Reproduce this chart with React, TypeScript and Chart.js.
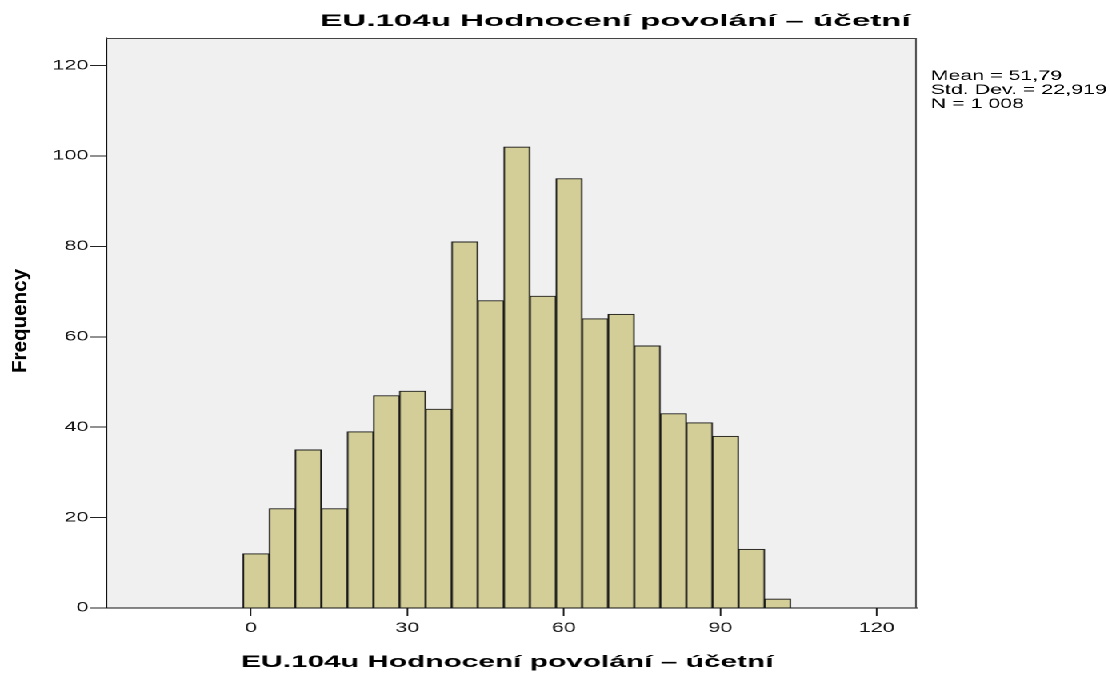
import React, { useEffect, useRef } from "react";
import { Chart, registerables } from "chart.js";

Chart.register(...registerables);

// ---- data ----
const binCenters = [1, 6, 11, 16, 21, 26, 31, 36, 41, 46, 51, 56, 61, 66, 71, 76, 81, 86, 91, 96, 101];
const frequencies = [12, 22, 35, 22, 39, 47, 48, 44, 81, 68, 102, 69, 95, 64, 65, 58, 43, 41, 38, 13, 2];
const xTickValues = [0, 30, 60, 90, 120];
const yTickValues = [0, 20, 40, 60, 80, 100, 120];
const chartTitle = "EU.104u Hodnocení povolání – účetní";
const xAxisTitle = "EU.104u Hodnocení povolání – účetní";
const yAxisTitle = "Frequency";
const statsLines = ["Mean = 51,79", "Std. Dev. = 22,919", "N = 1 008"];

// ---- layout (the reference is horizontally stretched) ----
const SCREEN_W = 1110;
const SCREEN_H = 675;
const K = 1.6; // horizontal stretch factor
const W = SCREEN_W / K;
const FONT = "'Liberation Sans', Arial, sans-serif";

const sx = (screenX: number) => screenX / K;

const textPlugin = {
  id: "spssText",
  beforeDraw(chart: any) {
    const { ctx, chartArea } = chart;
    ctx.save();
    ctx.fillStyle = "#f0f0f0";
    ctx.fillRect(chartArea.left, chartArea.top, chartArea.right - chartArea.left, chartArea.bottom - chartArea.top);
    ctx.restore();
  },
  afterDraw(chart: any) {
    const { ctx, chartArea } = chart;
    ctx.save();
    // frame top/right
    ctx.strokeStyle = "#444";
    ctx.lineWidth = 1;
    ctx.beginPath();
    ctx.moveTo(chartArea.left, chartArea.top + 0.5);
    ctx.lineTo(chartArea.right - 0.5, chartArea.top + 0.5);
    ctx.lineTo(chartArea.right - 0.5, chartArea.bottom);
    ctx.stroke();

    ctx.fillStyle = "#000";
    const drawFit = (text: string, cx: number, baseline: number, font: string, targetScreenW: number, align: CanvasTextAlign) => {
      ctx.save();
      ctx.font = font;
      const w = ctx.measureText(text).width;
      const s = targetScreenW / K / w;
      ctx.translate(cx, baseline);
      ctx.scale(s, 1);
      ctx.textAlign = align;
      ctx.textBaseline = "alphabetic";
      ctx.fillText(text, 0, 0);
      ctx.restore();
      return s;
    };

    // main title
    drawFit(chartTitle, sx(615), 26, `bold 17px ${FONT}`, 590, "center");
    // x axis title
    drawFit(xAxisTitle, sx(507), 667, `bold 17px ${FONT}`, 532, "center");

    // y axis title (rotated, compensate the stretch)
    ctx.save();
    ctx.font = `bold 21px ${FONT}`;
    const lw = ctx.measureText(yAxisTitle).width;
    ctx.translate(sx(21), 321);
    ctx.scale(1 / K, 1);
    ctx.rotate(-Math.PI / 2);
    ctx.scale(104 / lw, 1);
    ctx.textAlign = "center";
    ctx.textBaseline = "middle";
    ctx.fillText(yAxisTitle, 0, 0);
    ctx.restore();

    // stats
    ctx.save();
    ctx.font = `14px ${FONT}`;
    const refW = ctx.measureText(statsLines[1]).width;
    const s = 176 / K / refW;
    const baselines = [80, 94, 108];
    statsLines.forEach((line, i) => {
      ctx.save();
      ctx.translate(sx(930), baselines[i]);
      ctx.scale(s, 1);
      ctx.textAlign = "left";
      ctx.fillText(line, 0, 0);
      ctx.restore();
    });
    ctx.restore();

    ctx.restore();
  },
};

export default function App() {
  const canvasRef = useRef<HTMLCanvasElement | null>(null);

  useEffect(() => {
    if (!canvasRef.current) return;
    const plotLeft = sx(106);
    const plotRight = sx(916);
    const chart = new Chart(canvasRef.current, {
      type: "bar",
      data: {
        datasets: [
          {
            label: "Frequency",
            data: binCenters.map((x, i) => ({ x, y: frequencies[i] })),
            backgroundColor: "#d3ce98",
            borderColor: "#1a1a1a",
            borderWidth: 1,
            barPercentage: 1,
            categoryPercentage: 1,
          },
        ],
      },
      plugins: [textPlugin],
      options: {
        animation: false,
        responsive: true,
        maintainAspectRatio: false,
        devicePixelRatio: 2,
        layout: { padding: { top: 38, right: W - plotRight, bottom: 0, left: 0 } },
        plugins: {
          legend: { display: false },
          title: { display: false },
          tooltip: { enabled: false },
        },
        scales: {
          x: {
            type: "linear",
            min: -27.77,
            max: 127.68,
            offset: false,
            afterBuildTicks: (axis: any) => {
              axis.ticks = xTickValues.map((v) => ({ value: v }));
            },
            afterFit: (axis: any) => {
              axis.height = SCREEN_H - 608;
            },
            grid: { offset: false, drawOnChartArea: false, drawTicks: true, tickLength: 8, color: "#222", lineWidth: 1 },
            border: { display: true, color: "#111", width: 1 },
            ticks: {
              padding: 4,
              color: "#111",
              font: { family: FONT, size: 13.5 },
              maxRotation: 0,
              autoSkip: false,
            },
          },
          y: {
            type: "linear",
            min: 0,
            max: 126.1,
            afterBuildTicks: (axis: any) => {
              axis.ticks = yTickValues.map((v) => ({ value: v }));
            },
            afterFit: (axis: any) => {
              axis.width = plotLeft;
            },
            grid: { offset: false, drawOnChartArea: false, drawTicks: true, tickLength: 10, color: "#222", lineWidth: 1 },
            border: { display: true, color: "#111", width: 1 },
            ticks: {
              padding: 1,
              color: "#111",
              font: { family: FONT, size: 13.5 },
              autoSkip: false,
            },
          },
        },
      },
    });
    return () => chart.destroy();
  }, []);

  return (
    <div
      style={{
        position: "fixed",
        left: 0,
        top: 0,
        width: `${W}px`,
        height: `${SCREEN_H}px`,
        transform: `scaleX(${K})`,
        transformOrigin: "0 0",
        background: "#fff",
      }}
    >
      <canvas ref={canvasRef} />
    </div>
  );
}
